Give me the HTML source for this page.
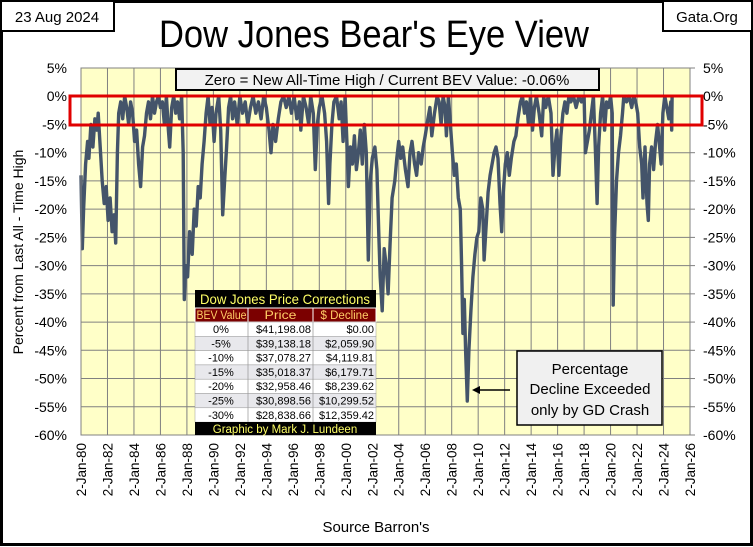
<!DOCTYPE html>
<html><head><meta charset="utf-8">
<style>
html,body{margin:0;padding:0;background:#fff;}
svg{display:block;font-family:"Liberation Sans",sans-serif;}
</style></head>
<body>
<svg id="chart" width="753" height="547" viewBox="0 0 753 547" xmlns="http://www.w3.org/2000/svg">
<rect x="1.5" y="1.5" width="750" height="543" fill="#fff" stroke="#000" stroke-width="3"/>
<g>
<rect x="1" y="1" width="113" height="30" fill="#fff" stroke="#000" stroke-width="2"/>
<text x="57" y="22" font-size="15" text-anchor="middle">23 Aug 2024</text>
</g>
<g>
<rect x="663" y="1" width="89" height="30" fill="#fff" stroke="#000" stroke-width="2"/>
<text x="707" y="22" font-size="15" text-anchor="middle">Gata.Org</text>
</g>
<text x="374" y="47" font-size="38" text-anchor="middle" textLength="430" lengthAdjust="spacingAndGlyphs">Dow Jones Bear's Eye View</text>
<rect x="81" y="68" width="609" height="367" fill="#ffffc8"/>
<g id="grid"></g>
<g id="yleft"></g>
<g id="yright"></g>
<g id="xaxis"></g>
<path id="series" fill="none" stroke="#44546a" stroke-width="3.4" stroke-linejoin="round"/>
<rect x="81" y="68" width="609" height="367" fill="none" stroke="#808080" stroke-width="1"/>
<rect x="70" y="96" width="632" height="29" fill="none" stroke="#e00000" stroke-width="3"/>
<g>
<rect x="176" y="69" width="423" height="21" fill="#f2f2f2" stroke="#000" stroke-width="2"/>
<text x="387" y="85" font-size="15" text-anchor="middle">Zero = New All-Time High / Current BEV Value:  -0.06%</text>
</g>
<text transform="translate(23,252) rotate(-90)" font-size="14" text-anchor="middle">Percent from  Last All - Time  High</text>
<text x="376" y="532" font-size="15" text-anchor="middle">Source Barron's</text>
<g id="table" font-size="11"></g>
<g>
<rect x="517" y="351" width="145" height="74" fill="#f0f0f0" stroke="#000" stroke-width="1.5"/>
<text x="590" y="374" font-size="15" text-anchor="middle">Percentage</text>
<text x="590" y="394" font-size="15" text-anchor="middle">Decline Exceeded</text>
<text x="590" y="415" font-size="15" text-anchor="middle">only by GD Crash</text>
<line x1="510" y1="390" x2="478" y2="390" stroke="#000" stroke-width="1.5"/>
<polygon points="472,390 480,386 480,394" fill="#000"/>
</g>
</svg>
<script>
const yTicks=[5,0,-5,-10,-15,-20,-25,-30,-35,-40,-45,-50,-55,-60];
const xTickYears=[1980,1982,1984,1986,1988,1990,1992,1994,1996,1998,2000,2002,2004,2006,2008,2010,2012,2014,2016,2018,2020,2022,2024,2026];
const years=[1980.0,1980.1,1980.2,1980.35,1980.5,1980.6,1980.75,1980.9,1981.05,1981.2,1981.3,1981.45,1981.6,1981.75,1981.9,1982.05,1982.2,1982.35,1982.5,1982.62,1982.75,1982.85,1983.0,1983.15,1983.3,1983.45,1983.6,1983.75,1983.9,1984.05,1984.2,1984.35,1984.5,1984.65,1984.8,1984.95,1985.1,1985.25,1985.4,1985.55,1985.7,1985.85,1986.0,1986.15,1986.3,1986.45,1986.6,1986.7,1986.85,1987.0,1987.15,1987.3,1987.45,1987.6,1987.72,1987.8,1987.9,1988.05,1988.2,1988.4,1988.55,1988.7,1988.85,1989.0,1989.15,1989.3,1989.45,1989.6,1989.75,1989.9,1990.05,1990.2,1990.4,1990.55,1990.7,1990.85,1991.0,1991.15,1991.3,1991.45,1991.6,1991.8,1992.0,1992.2,1992.4,1992.6,1992.8,1993.0,1993.2,1993.4,1993.6,1993.8,1994.0,1994.2,1994.35,1994.5,1994.7,1994.9,1995.1,1995.3,1995.5,1995.7,1995.9,1996.1,1996.3,1996.5,1996.6,1996.8,1997.0,1997.2,1997.35,1997.55,1997.7,1997.85,1998.0,1998.2,1998.4,1998.55,1998.7,1998.8,1998.95,1999.1,1999.3,1999.5,1999.65,1999.8,1999.95,2000.1,2000.2,2000.35,2000.5,2000.65,2000.8,2000.95,2001.1,2001.25,2001.4,2001.55,2001.7,2001.85,2002.0,2002.2,2002.35,2002.5,2002.6,2002.75,2002.9,2003.05,2003.2,2003.35,2003.5,2003.7,2003.85,2004.0,2004.15,2004.3,2004.5,2004.7,2004.85,2005.0,2005.2,2005.35,2005.5,2005.7,2005.85,2006.0,2006.2,2006.35,2006.5,2006.7,2006.9,2007.05,2007.2,2007.35,2007.5,2007.6,2007.75,2007.9,2008.05,2008.2,2008.35,2008.5,2008.65,2008.75,2008.85,2008.95,2009.05,2009.18,2009.3,2009.45,2009.6,2009.75,2009.9,2010.05,2010.2,2010.35,2010.45,2010.6,2010.75,2010.9,2011.05,2011.2,2011.35,2011.5,2011.65,2011.78,2011.9,2012.05,2012.2,2012.35,2012.5,2012.7,2012.85,2013.0,2013.2,2013.35,2013.5,2013.65,2013.8,2013.95,2014.1,2014.25,2014.4,2014.6,2014.8,2014.95,2015.1,2015.3,2015.5,2015.65,2015.8,2015.95,2016.1,2016.25,2016.4,2016.55,2016.7,2016.85,2017.0,2017.2,2017.4,2017.6,2017.8,2018.0,2018.1,2018.25,2018.4,2018.55,2018.7,2018.85,2018.98,2019.1,2019.25,2019.4,2019.55,2019.7,2019.85,2020.0,2020.12,2020.2,2020.3,2020.45,2020.6,2020.75,2020.9,2021.0,2021.2,2021.4,2021.6,2021.75,2021.9,2022.05,2022.2,2022.35,2022.45,2022.6,2022.75,2022.85,2022.95,2023.1,2023.25,2023.4,2023.55,2023.7,2023.82,2023.95,2024.1,2024.25,2024.4,2024.55,2024.62,2024.65];
const bevValues=[-14,-27,-20,-12,-8,-11,-5,-9,-4,-6,-3,-9,-15,-19,-16,-22,-18,-24,-21,-26,-10,-3,-1,-4,0,-2,-5,-1,-3,-8,-6,-12,-16,-9,-7,-3,-1,-4,0,-3,-1,0,-2,-1,-5,0,-6,-9,-2,0,-3,-1,-4,0,-10,-36,-30,-32,-24,-28,-20,-23,-16,-18,-12,-8,-3,0,-5,-2,-8,-3,0,-6,-21,-15,-9,-2,0,-4,-1,-5,0,-3,-1,-5,-2,0,-3,-1,-4,0,-2,-6,-10,-5,-8,-4,-1,0,-2,0,-3,0,-4,-1,-6,0,-2,-5,0,-3,-13,-5,-2,0,-3,-8,-19,-12,-5,-1,0,-4,-1,-8,0,-9,-16,-9,-12,-7,-13,-10,-6,-12,-5,-10,-29,-15,-11,-9,-13,-25,-32,-38,-27,-30,-35,-26,-18,-15,-11,-8,-11,-9,-13,-16,-10,-8,-12,-14,-10,-12,-9,-7,-4,-2,-7,-3,0,-1,-5,0,-2,-7,0,-5,-10,-14,-12,-18,-20,-30,-42,-36,-45,-54,-45,-38,-32,-28,-25,-24,-18,-20,-29,-23,-17,-14,-12,-10,-9,-11,-19,-24,-17,-12,-10,-14,-11,-8,-7,-4,-1,0,-3,-1,-5,0,-6,-2,0,-3,-7,0,-2,0,-3,-14,-9,-6,-14,-7,-3,-1,-3,0,-1,0,-2,0,-1,0,-10,-8,-6,-3,0,-9,-19,-9,-3,0,-6,-1,-2,0,-3,-37,-25,-15,-10,-7,-3,0,-1,0,-2,0,-1,-3,-9,-12,-18,-9,-19,-22,-12,-9,-13,-8,-5,-9,-12,-3,0,-2,-4,-1,-6,-0.06];
const tableHeaders=["BEV Value","Price","$ Decline"];
const tableLevels=["0%","-5%","-10%","-15%","-20%","-25%","-30%"];
const tablePrices=["$41,198.08","$39,138.18","$37,078.27","$35,018.37","$32,958.46","$30,898.56","$28,838.66"];
const tableDeclines=["$0.00","$2,059.90","$4,119.81","$6,179.71","$8,239.62","$10,299.52","$12,359.42"];

const NS="http://www.w3.org/2000/svg";
const PL=81,PR=690,PT=68,PB=435;
const X0=1980,X1=2026,Y0=5,Y1=-60;
function xs(v){return PL+(v-X0)/(X1-X0)*(PR-PL);}
function ys(v){return PT+(Y0-v)/(Y0-Y1)*(PB-PT);}
function mk(tag,attrs,parent,txt){const e=document.createElementNS(NS,tag);for(const k in attrs)e.setAttribute(k,attrs[k]);if(txt!==undefined)e.textContent=txt;parent.appendChild(e);return e;}
const grid=document.getElementById('grid'),yl=document.getElementById('yleft'),yr=document.getElementById('yright'),xa=document.getElementById('xaxis');
yTicks.forEach(t=>{
  const y=ys(t);
  const g=mk('line',{x1:PL,x2:PR,y1:y,y2:y,stroke:'#808080','stroke-width':1},grid);
  
  
  const a=mk('text',{x:67,y:y+5,'font-size':14,'text-anchor':'end'},yl,t+'%');
  
  
  const b=mk('text',{x:703,y:y+5,'font-size':14},yr,t+'%');
  
  
  mk('line',{x1:PR,x2:PR+5,y1:y,y2:y,stroke:'#808080'},yr);
});
xTickYears.forEach(t=>{
  const x=xs(t);
  const g=mk('line',{x1:x,x2:x,y1:PT,y2:PB,stroke:'#808080','stroke-width':1},grid);
  
  
  const lab='2-Jan-'+String(t%100).padStart(2,'0');
  const l=mk('text',{transform:'translate('+(x+5)+',443) rotate(-90)','font-size':13.5,'text-anchor':'end'},xa,lab);
  
  
});
let d='';
years.forEach((yr_,i)=>{d+=(i?'L':'M')+xs(yr_).toFixed(1)+' '+ys(bevValues[i]).toFixed(1);});
document.getElementById('series').setAttribute('d',d);

const tb=document.getElementById('table');
const cols=[195,248,313,376];
mk('rect',{x:195,y:290,width:181,height:18,fill:'#000'},tb);
mk('text',{x:285,y:304,'font-size':14,fill:'#ffff66','text-anchor':'middle',textLength:170,lengthAdjust:'spacingAndGlyphs'},tb,'Dow Jones Price Corrections');
for(let c=0;c<3;c++){
  mk('rect',{x:cols[c],y:308,width:cols[c+1]-cols[c],height:14,fill:'#7b0000',stroke:'#fff','stroke-width':1},tb);
  const h=mk('text',{x:(cols[c]+cols[c+1])/2,y:319,'font-size':11.5,fill:'#ffcc66','text-anchor':'middle',textLength:[50,32,48][c],lengthAdjust:'spacingAndGlyphs'},tb,tableHeaders[c]);
  
  
}
const RH=14.3;
tableLevels.forEach((lv,i)=>{
  const y=322+i*RH;
  mk('rect',{x:195,y:y,width:181,height:RH,fill:i%2?'#e8e8ec':'#fff'},tb);
  for(let c=0;c<3;c++)mk('rect',{x:cols[c],y:y,width:cols[c+1]-cols[c],height:RH,fill:'none',stroke:'#999','stroke-width':0.5},tb);
  const r=mk('text',{x:221,y:y+11,'text-anchor':'middle'},tb,lv);
  
  
  mk('text',{x:311,y:y+11,'text-anchor':'end'},tb,tablePrices[i]);
  mk('text',{x:374,y:y+11,'text-anchor':'end'},tb,tableDeclines[i]);
});
mk('rect',{x:195,y:422,width:181,height:13,fill:'#000'},tb);
mk('text',{x:285,y:433,'font-size':11.5,fill:'#ffff66','text-anchor':'middle'},tb,'Graphic by Mark J. Lundeen');
</script>
</body></html>
